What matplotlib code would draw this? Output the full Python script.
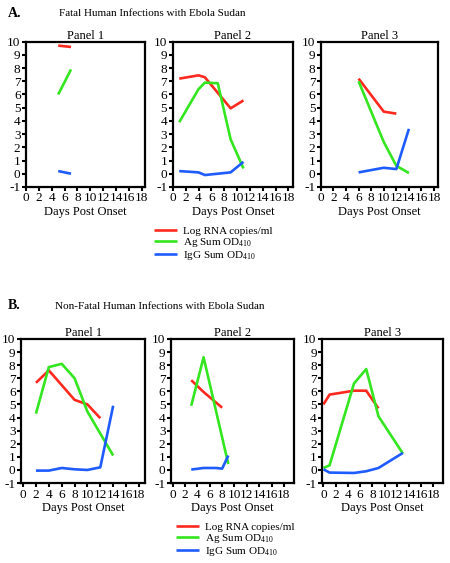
import matplotlib
matplotlib.use("Agg")
import matplotlib.pyplot as plt

plt.rcParams['font.family'] = ['Liberation Serif', 'DejaVu Serif']
plt.rcParams['mathtext.fontset'] = 'stix'
plt.rcParams['axes.unicode_minus'] = False

# Fatal cases (A)
fatal_days_rna = [[5, 7], [1, 4, 5, 9, 11], [6, 10, 12]]
fatal_rna = [[9.7, 9.6], [7.2, 7.45, 7.3, 4.95, 5.55], [7.2, 4.7, 4.55]]
fatal_days_ag = [[5, 7], [1, 4, 5, 7, 9, 11], [6, 10, 12, 14]]
fatal_ag = [[6.0, 7.9], [3.9, 6.4, 6.9, 6.85, 2.6, 0.4], [7.0, 2.4, 0.6, 0.05]]
fatal_days_igg = [[5, 7], [1, 4, 5, 7, 9, 11], [6, 10, 12, 14]]
fatal_igg = [[0.2, 0.0], [0.2, 0.1, -0.1, 0.0, 0.1, 0.9], [0.1, 0.45, 0.35, 3.4]]

# Non-fatal cases (B)
nonfatal_days_rna = [[2, 4, 8, 10, 12], [3, 5, 8], [0, 1, 5, 7, 9]]
nonfatal_rna = [[6.65, 7.6, 5.35, 5.0, 3.95], [6.85, 5.95, 4.75], [5.0, 5.75, 6.05, 6.05, 4.7]]
nonfatal_days_ag = [[2, 4, 6, 8, 10, 14], [3, 5, 9], [0, 1, 5, 7, 9, 13]]
nonfatal_ag = [[4.3, 7.85, 8.1, 7.0, 4.45, 1.1], [4.9, 8.6, 0.45], [0.15, 0.35, 6.6, 7.7, 4.1, 1.25]]
nonfatal_days_igg = [[2, 4, 6, 8, 10, 12, 14], [3, 5, 7, 8, 9], [0, 1, 5, 7, 9, 13]]
nonfatal_igg = [[-0.05, -0.05, 0.15, 0.05, 0.0, 0.2, 4.9], [0.03, 0.15, 0.15, 0.1, 1.1],
                [0.05, -0.2, -0.23, -0.1, 0.15, 1.3]]

panel_titles = ["Panel 1", "Panel 2", "Panel 3"]
labels = ["Log RNA copies/ml", r"Ag Sum OD$_{\mathregular{410}}$", r"IgG Sum OD$_{\mathregular{410}}$"]
colors = ["#ff2a1f", "#33e61f", "#1f5cff"]

fig = plt.figure(figsize=(4.5, 5.63), dpi=100)

top_pos = [[0.058, 0.668, 0.264, 0.258], [0.384, 0.668, 0.267, 0.258], [0.713, 0.668, 0.26, 0.258]]
bot_pos = [[0.047, 0.142, 0.276, 0.256], [0.38, 0.142, 0.273, 0.256], [0.716, 0.142, 0.269, 0.256]]
top_xlim = [(0, 18.5), (0, 18.7), (0, 18.6)]
bot_xlim = [(-0.3, 19.0), (-0.27, 19.6), (-0.2, 19.6)]


def draw_row(positions, xlims, days, values):
    axes = []
    for i in range(3):
        ax = fig.add_axes(positions[i])
        for k in range(3):
            ax.plot(days[k][i], values[k][i], color=colors[k], lw=1.9,
                    solid_capstyle='butt', label=labels[k])
        ax.set_xlim(*xlims[i])
        ax.set_ylim(-1, 10)
        ax.set_xticks(range(0, 19, 2))
        ax.set_yticks(range(-1, 11))
        ax.tick_params(direction='out', length=3, width=1.5, labelsize=9.5, pad=1)
        for s in ax.spines.values():
            s.set_linewidth(1.6)
        ax.set_title(panel_titles[i], fontsize=9, pad=2)
        ax.set_xlabel("Days Post Onset", fontsize=9, labelpad=1)
        axes.append(ax)
    return axes


axA = draw_row(top_pos, top_xlim, [fatal_days_rna, fatal_days_ag, fatal_days_igg],
               [fatal_rna, fatal_ag, fatal_igg])
axB = draw_row(bot_pos, bot_xlim, [nonfatal_days_rna, nonfatal_days_ag, nonfatal_days_igg],
               [nonfatal_rna, nonfatal_ag, nonfatal_igg])

fig.text(0.018, 0.976, "A.", fontsize=10, fontweight='bold', va='center')
fig.text(0.131, 0.976, "Fatal Human Infections with Ebola Sudan", fontsize=8, va='center')
fig.text(0.018, 0.458, "B.", fontsize=10, fontweight='bold', va='center')
fig.text(0.122, 0.456, "Non-Fatal Human Infections with Ebola Sudan", fontsize=8, va='center')

h, l = axA[1].get_legend_handles_labels()
fig.legend(h, l, loc='upper left', bbox_to_anchor=(0.342, 0.598), frameon=False,
           fontsize=8, handlelength=2.1, handletextpad=0.55, labelspacing=0.0,
           borderaxespad=0, borderpad=0)
fig.legend(h, l, loc='upper left', bbox_to_anchor=(0.39, 0.072), frameon=False,
           fontsize=8, handlelength=2.1, handletextpad=0.55, labelspacing=0.0,
           borderaxespad=0, borderpad=0)

plt.savefig("out.png", dpi=100)
